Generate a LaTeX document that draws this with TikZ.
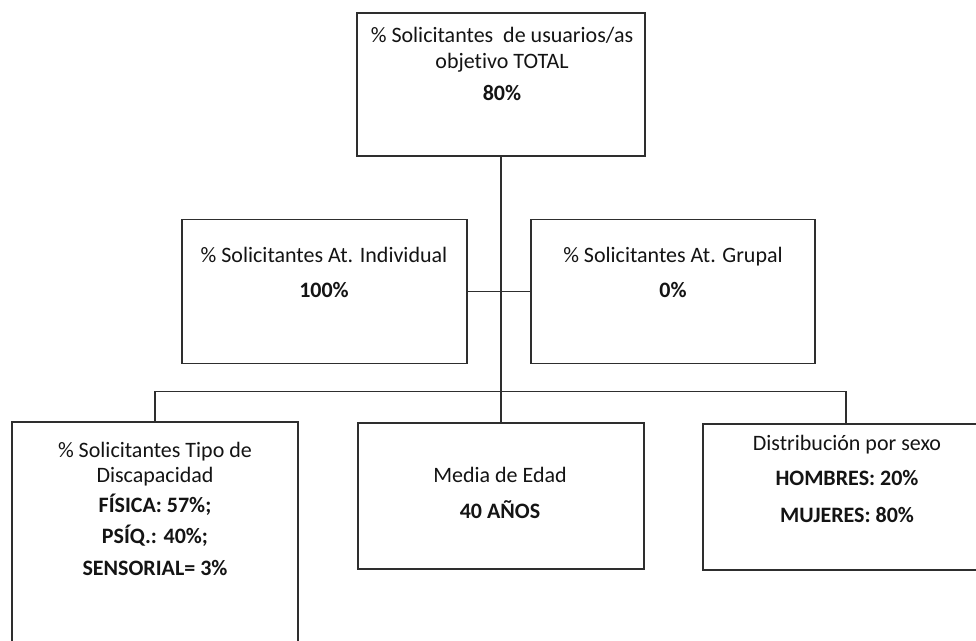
\documentclass[tikz,border=0pt]{standalone}
\usepackage{fontspec}
\setmainfont{Carlito}[Ligatures=NoCommon]
\begin{document}
\begin{tikzpicture}[x=1pt,y=-1pt,
  box/.style={draw=black!82, line width=1.7pt, inner sep=0pt},
  link/.style={draw=black!82, line width=1.1pt},
  txt/.style={anchor=base, inner sep=0pt, text=black!92, font=\fontsize{22}{26}\selectfont},
  btxt/.style={txt, font=\fontsize{22}{26}\selectfont\bfseries}]
\useasboundingbox[fill=white] (0,0) rectangle (976,640);

% boxes
\node[box, minimum width=288pt, minimum height=143pt] (top) at (501,84.5) {};
\node[box, minimum width=285pt, minimum height=144pt] (midL) at (324.5,291.5) {};
\node[box, minimum width=284pt, minimum height=144pt] (midR) at (673,291.5) {};
\node[box, minimum width=286pt, minimum height=238pt] (botL) at (155,541) {};
\node[box, minimum width=286pt, minimum height=146pt] (botM) at (501,496) {};
\node[box, minimum width=286pt, minimum height=146pt] (botR) at (846,497) {};

% connectors
\draw[link] (top.south) -- (botM.north);
\draw[link] (midL.east) -- (midR.west);
\draw[link] (botL.north) -- ++(0,-30) -| (botR.north);

% texts
\node[txt] (t1) at (502,42) {\% Solicitantes\ \ de usuarios/as};
\node[txt] (t2) at (502,68) {objetivo TOTAL};
\node[btxt] (t3) at (502,100) {80\%};

\node[txt] (l1) at (324,262) {\% Solicitantes At. Individual};
\node[btxt] (l2) at (324,297) {100\%};

\node[txt] (r1) at (673,262) {\% Solicitantes At. Grupal};
\node[btxt] (r2) at (673,297) {0\%};

\node[txt] (a1) at (155,457) {\% Solicitantes Tipo de};
\node[txt] (a2) at (155,482) {Discapacidad};
\node[btxt] (a3) at (155,512) {FÍSICA: 57\%;};
\node[btxt] (a4) at (155,543) {PSÍQ.: 40\%;};
\node[btxt] (a5) at (155,575) {SENSORIAL= 3\%};

\node[txt] (m1) at (500,482) {Media de Edad};
\node[btxt] (m2) at (500,518) {40 AÑOS};

\node[txt] (s1) at (847,450) {Distribución por sexo};
\node[btxt] (s2) at (847,485) {HOMBRES: 20\%};
\node[btxt] (s3) at (847,522) {MUJERES: 80\%};
\end{tikzpicture}
\end{document}
